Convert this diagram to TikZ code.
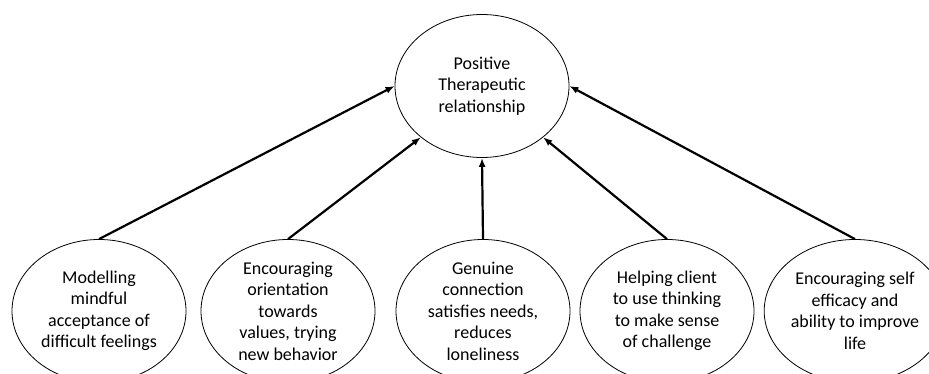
\documentclass[tikz,border=0pt]{standalone}
\usepackage{fontspec}
\setmainfont{Carlito}
\usetikzlibrary{shapes.geometric,arrows.meta}

\begin{document}
\begin{tikzpicture}[
  x=1pt, y=-1pt,
  every node/.style={
    draw, ellipse, line width=.8pt,
    minimum width=174pt, minimum height=143pt,
    inner xsep=0pt, inner ysep=-6pt, align=center,
    font=\fontsize{18}{21.5}\selectfont,
  },
]

  \useasboundingbox (0,0) rectangle (929,374);

  \def\rowY{311}

  \node (P) at (482,86) {Positive\\Therapeutic\\relationship};

  \node (A) at (99,\rowY) {Modelling\\mindful\\acceptance of\\difficult feelings};
  \node (B) at (288,\rowY) {Encouraging\\orientation\\towards\\values, trying\\new behavior};
  \node (C) at (483,\rowY) {Genuine\\connection\\satisfies needs,\\reduces\\loneliness};
  \node (D) at (667,\rowY) {Helping client\\to use thinking\\to make sense\\of challenge};
  \node (E) at (855,\rowY) {Encouraging self\\efficacy and\\ability to improve\\life};

  \path [line width=2.2pt, -{Latex[length=9pt,width=7pt]}]
    (A.north) edge (P.west)
    (B.north) edge (P.220)
    (C.north) edge (P.south)
    (D.north) edge (P.320)
    (E.north) edge (P.east);

\end{tikzpicture}
\end{document}
